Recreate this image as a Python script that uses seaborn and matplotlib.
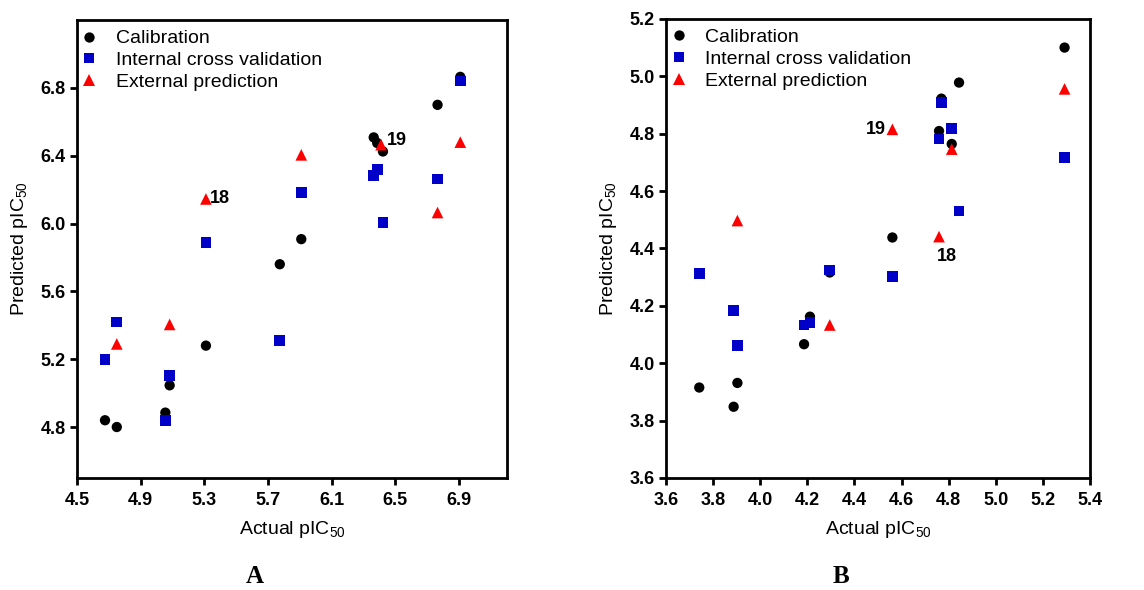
import matplotlib
matplotlib.use("Agg")
import matplotlib.pyplot as plt
import seaborn as sns
import pandas as pd

# ---------------- data: panel A ----------------
a_cal_x = [4.676, 4.75, 5.055, 5.082, 5.31, 5.774, 5.909, 6.364, 6.386, 6.422, 6.765, 6.908]
a_cal_y = [4.84, 4.80, 4.885, 5.046, 5.28, 5.76, 5.908, 6.508, 6.475, 6.425, 6.70, 6.865]
a_cv_x = [4.676, 4.75, 5.055, 5.082, 5.31, 5.774, 5.909, 6.364, 6.386, 6.422, 6.765, 6.908]
a_cv_y = [5.198, 5.42, 4.84, 5.105, 5.89, 5.31, 6.183, 6.283, 6.317, 6.006, 6.262, 6.84]
a_ext_x = [4.75, 5.082, 5.31, 5.909, 6.41, 6.765, 6.908]
a_ext_y = [5.29, 5.405, 6.145, 6.405, 6.465, 6.065, 6.48]

# ---------------- data: panel B ----------------
b_cal_x = [3.741, 3.887, 3.903, 4.186, 4.211, 4.295, 4.561, 4.759, 4.769, 4.813, 4.844, 5.292]
b_cal_y = [3.915, 3.848, 3.931, 4.066, 4.162, 4.316, 4.438, 4.809, 4.922, 4.764, 4.978, 5.10]
b_cv_x = [3.741, 3.887, 3.903, 4.186, 4.211, 4.295, 4.561, 4.759, 4.769, 4.813, 4.844, 5.292]
b_cv_y = [4.313, 4.183, 4.062, 4.133, 4.141, 4.325, 4.301, 4.781, 4.908, 4.819, 4.530, 4.718]
b_ext_x = [3.903, 4.295, 4.561, 4.759, 4.813, 5.292]
b_ext_y = [4.497, 4.133, 4.815, 4.441, 4.746, 4.956]

series_names = ["Calibration", "Internal cross validation", "External prediction"]
a_xticks = [4.5, 4.9, 5.3, 5.7, 6.1, 6.5, 6.9]
a_yticks = [4.8, 5.2, 5.6, 6.0, 6.4, 6.8]
b_xticks = [3.6, 3.8, 4.0, 4.2, 4.4, 4.6, 4.8, 5.0, 5.2, 5.4]
b_yticks = [3.6, 3.8, 4.0, 4.2, 4.4, 4.6, 4.8, 5.0, 5.2]

# annotations: (label, x, y)
a_notes = [("18", 5.31, 6.145), ("19", 6.41, 6.465)]
b_notes = [("19", 4.561, 4.815), ("18", 4.759, 4.441)]

sns.set_theme(style="ticks")
plt.rcParams["font.family"] = ["Liberation Sans", "DejaVu Sans"]
plt.rcParams["mathtext.fontset"] = "custom"
plt.rcParams["mathtext.rm"] = "Liberation Sans"
plt.rcParams["mathtext.it"] = "Liberation Sans:italic"
plt.rcParams["mathtext.bf"] = "Liberation Sans:bold"
plt.rcParams["text.color"] = "black"
plt.rcParams["axes.labelcolor"] = "black"
plt.rcParams["xtick.color"] = "black"
plt.rcParams["ytick.color"] = "black"

palette = {"Calibration": "#000000", "Internal cross validation": "#0000c8",
           "External prediction": "#ff0000"}
markers = {"Calibration": "o", "Internal cross validation": "s",
           "External prediction": "^"}
sizes = {"Calibration": 55, "Internal cross validation": 60, "External prediction": 70}


def make_df(cx, cy, vx, vy, ex, ey):
    rows = []
    for x, y in zip(cx, cy):
        rows.append((x, y, series_names[0]))
    for x, y in zip(vx, vy):
        rows.append((x, y, series_names[1]))
    for x, y in zip(ex, ey):
        rows.append((x, y, series_names[2]))
    return pd.DataFrame(rows, columns=["actual", "predicted", "set"])


dfA = make_df(a_cal_x, a_cal_y, a_cv_x, a_cv_y, a_ext_x, a_ext_y)
dfB = make_df(b_cal_x, b_cal_y, b_cv_x, b_cv_y, b_ext_x, b_ext_y)

fig = plt.figure(figsize=(11.44, 5.90), dpi=100)
axA = fig.add_axes([0.0673, 0.19, 0.3757, 0.776])
axB = fig.add_axes([0.5822, 0.19, 0.3706, 0.778])


def style(ax, df, xlim, ylim, xt, yt, notes, note_offsets, leg_dx):
    sns.scatterplot(data=df, x="actual", y="predicted", hue="set", style="set",
                    size="set", sizes=sizes, size_order=series_names,
                    palette=palette, markers=markers, linewidth=0,
                    hue_order=series_names, style_order=series_names,
                    ax=ax, legend=True, zorder=3)
    ax.set_xlim(*xlim)
    ax.set_ylim(*ylim)
    ax.set_xticks(xt)
    ax.set_yticks(yt)
    ax.set_xticklabels([f"{v:.1f}" for v in xt], fontweight="bold", fontsize=13)
    ax.set_yticklabels([f"{v:.1f}" for v in yt], fontweight="bold", fontsize=13)
    ax.set_xlabel("Actual pIC$_{50}$", fontsize=14, labelpad=7)
    ax.set_ylabel("Predicted pIC$_{50}$", fontsize=14, labelpad=8)
    for sp in ax.spines.values():
        sp.set_visible(True)
        sp.set_linewidth(2.0)
        sp.set_color("black")
    ax.tick_params(axis="both", which="major", direction="out", length=5, width=2,
                   color="black", labelcolor="black")
    ax.tick_params(axis="x", pad=5)
    ax.tick_params(axis="y", pad=3)
    ax.tick_params(top=False, right=False)
    ax.legend(loc="upper left", bbox_to_anchor=(leg_dx, 1.0), frameon=False,
              fontsize=14, handletextpad=0.9, handlelength=0.9,
              labelspacing=0.22, borderaxespad=0.2, borderpad=0.3)
    for (lab, x, y), (dx, dy, ha, va) in zip(notes, note_offsets):
        ax.annotate(lab, (x, y), xytext=(dx, dy), textcoords="offset points",
                    fontsize=13, fontweight="bold", ha=ha, va=va, zorder=4,
                    color="black")


style(axA, dfA, (4.5, 7.2), (4.5, 7.2), a_xticks, a_yticks, a_notes,
      [(3, 0, "left", "center"), (4, 3, "left", "center")], -0.014)
style(axB, dfB, (3.6, 5.4), (3.6, 5.2), b_xticks, b_yticks, b_notes,
      [(-5, 0, "right", "center"), (6, -14, "center", "center")], -0.014)

fig.text(0.223, 0.004, "A", fontsize=18, fontweight="bold",
         family=["Liberation Serif", "DejaVu Serif"], ha="center", va="bottom")
fig.text(0.7355, 0.004, "B", fontsize=18, fontweight="bold",
         family=["Liberation Serif", "DejaVu Serif"], ha="center", va="bottom")

fig.savefig("out.png", dpi=100)
